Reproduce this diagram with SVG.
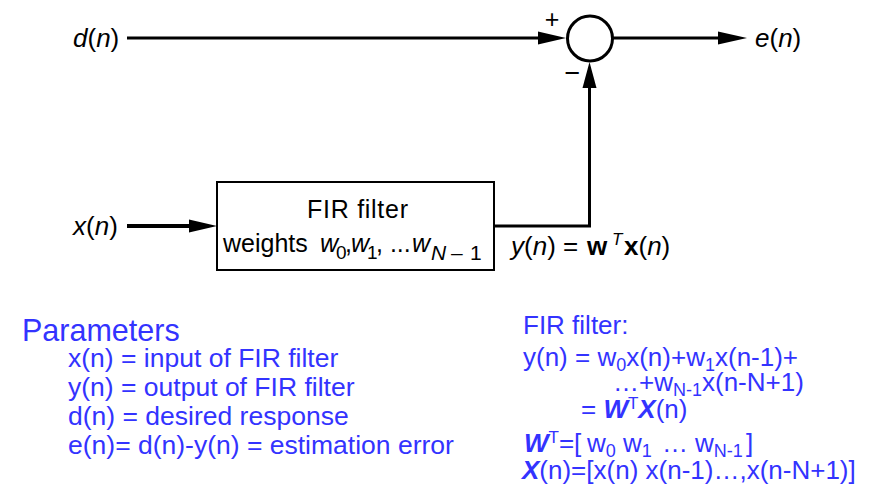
<svg xmlns="http://www.w3.org/2000/svg" width="891" height="501" viewBox="0 0 891 501">
<style>
text{font-family:"Liberation Sans",Arial,Helvetica,sans-serif;}
.k{fill:#000;}
.i{font-style:italic;}
.b{font-weight:bold;}
.bl{fill:#3333FF;}
.wire{fill:none;stroke:#000;stroke-width:3;}
.ah{fill:#000;stroke:none;}
</style>
<rect width="891" height="501" fill="#fff"/>
<g id="connectors">
  <line class="wire" x1="127" y1="38" x2="540" y2="38"/>
  <polygon class="ah" points="538,31.5 566,38 538,44.5"/>
  <line class="wire" x1="613" y1="38" x2="720" y2="38"/>
  <polygon class="ah" points="718,31.5 747,38 718,44.5"/>
  <line class="wire" x1="127" y1="226" x2="191" y2="226" style="stroke-width:4"/>
  <polygon class="ah" points="189,219.5 217,226 189,232.5"/>
  <path class="wire" d="M494,226 H589.5 V86"/>
  <polygon class="ah" points="582.5,88 589.5,62 596.5,88"/>
</g>
<g id="label-d">
  <text x="73" y="47" font-size="26" class="k"><tspan class="i">d</tspan>(<tspan class="i">n</tspan>)</text>
</g>
<g id="label-x">
  <text x="73" y="235" font-size="26" class="k"><tspan class="i">x</tspan>(<tspan class="i">n</tspan>)</text>
</g>
<g id="summer">
  <circle cx="590" cy="38.5" r="22.5" fill="#fff" stroke="#000" stroke-width="3"/>
  <text x="552" y="28" font-size="25" text-anchor="middle" class="k">+</text>
  <text x="572.5" y="82" font-size="27" text-anchor="middle" class="k">−</text>
</g>
<g id="label-e">
  <text x="755" y="47" font-size="26" class="k"><tspan class="i">e</tspan>(<tspan class="i">n</tspan>)</text>
</g>
<g id="fir-filter">
  <rect x="217" y="182" width="277" height="88" fill="#fff" stroke="#000" stroke-width="2"/>
  <text x="307" y="218" font-size="25" textLength="101" class="k">FIR filter</text>
  <text x="223" y="252" font-size="25" class="k">weights</text>
  <text x="320" y="252" font-size="25" class="k i">w</text>
  <text x="336" y="259" font-size="19" class="k">0</text>
  <text x="345" y="252" font-size="25" class="k">,</text>
  <text x="351" y="252" font-size="25" class="k i">w</text>
  <text x="367" y="259" font-size="19" class="k">1</text>
  <text x="376" y="252" font-size="25" class="k">, ...</text>
  <text x="412" y="252" font-size="25" class="k i">w</text>
  <text y="260" font-size="21" class="k"><tspan x="431" class="i">N</tspan><tspan x="451">–</tspan><tspan x="470">1</tspan></text>
</g>
<g id="label-y">
  <text x="511" y="255" font-size="26" class="k"><tspan class="i">y</tspan>(<tspan class="i">n</tspan>) =</text>
  <text x="587" y="255" font-size="26" class="k b">w</text>
  <text x="612" y="245" font-size="17" class="k i">T</text>
  <text x="624" y="255" font-size="26" class="k"><tspan class="b">x</tspan>(<tspan class="i">n</tspan>)</text>
</g>
<g id="parameters">
  <text x="22" y="341" font-size="30.5" class="bl">Parameters</text>
  <text x="68" y="367" font-size="26.5" class="bl">x(n) = input of FIR filter</text>
  <text x="68" y="396" font-size="26.5" class="bl">y(n) = output of FIR filter</text>
  <text x="68" y="425" font-size="26.5" class="bl">d(n) = desired response</text>
  <text x="68" y="454" font-size="26.5" class="bl">e(n)= d(n)-y(n) = estimation error</text>
</g>
<g id="fir-equations">
  <text x="523" y="334" font-size="26" class="bl">FIR filter:</text>
  <text x="523" y="366" font-size="26" class="bl">y(n) = w<tspan font-size="18" dy="5">0</tspan><tspan dy="-5">x(n)+w</tspan><tspan font-size="18" dy="5">1</tspan><tspan dy="-5">x(n-1)+</tspan></text>
  <text x="613" y="391" font-size="26" class="bl">…+w<tspan font-size="18" dy="5">N-1</tspan><tspan dy="-5">x(n-N+1)</tspan></text>
  <text x="581" y="418" font-size="26" class="bl">= <tspan class="b i">W</tspan><tspan font-size="17" dy="-9">T</tspan><tspan dy="9" class="b i">X</tspan>(n)</text>
  <text x="524" y="452" font-size="26" class="bl"><tspan class="b i">W</tspan><tspan font-size="17" dy="-9">T</tspan><tspan dy="9">=[</tspan><tspan x="587">w</tspan><tspan font-size="18" dy="5">0</tspan><tspan x="623" dy="-5">w</tspan><tspan font-size="18" dy="5">1</tspan><tspan x="662" dy="-5">…</tspan><tspan x="695">w</tspan><tspan font-size="18" dy="5">N-1</tspan><tspan x="746" dy="-5">]</tspan></text>
  <text x="522" y="479" font-size="26" class="bl"><tspan class="b i">X</tspan>(n)=[x(n) x(n-1)…,x(n-N+1)]</text>
</g>
</svg>
